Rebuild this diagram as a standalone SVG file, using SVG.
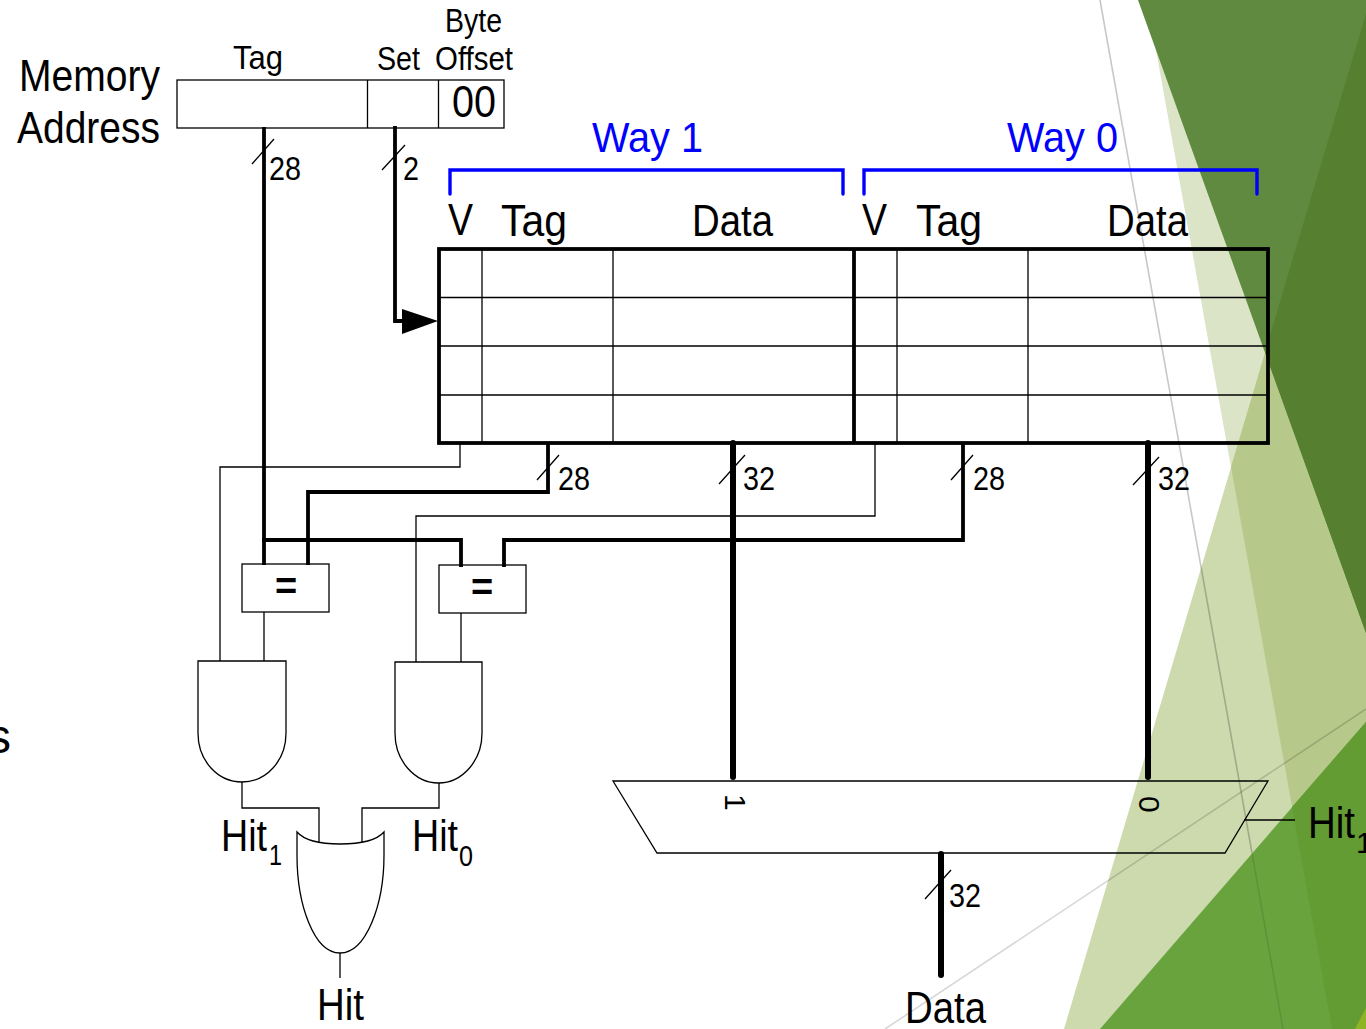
<svg xmlns="http://www.w3.org/2000/svg" width="1366" height="1029" viewBox="0 0 1366 1029">
<style>
text{font-family:"Liberation Sans",Arial,sans-serif;fill:#000}
.big{font-size:44px}
.mid{font-size:33px}
.way{font-size:43px;fill:#0000ff}
.sub{font-size:30px}
.thin{fill:none;stroke:#000;stroke-width:1.3}
.w3{fill:none;stroke:#000;stroke-width:3.8;stroke-linejoin:miter}
.w5{fill:none;stroke:#000;stroke-width:6;stroke-linecap:round}
.blue{fill:none;stroke:#0000ff;stroke-width:3.4;stroke-linecap:round}
.bg-line{fill:none;stroke:#000;stroke-width:1.6}
</style>
<rect width="1366" height="1029" fill="#fff"/>
<g id="background">
<polygon points="1147,0 1366,0 1366,1029 1332,1029" fill="#dce4c8"/>
<polygon points="1370,0 1064,1029 1366,1029" fill="#cddaae"/>
<polygon points="1370,0 1231,467 1332,1029 1366,1029" fill="#b6c98a"/>
<polygon points="1138,0 1366,0 1366,633" fill="#5f8a3f"/>
<polygon points="1366,14 1265,352 1366,633" fill="#567f30"/>
<polygon points="1366,722 1100,1029 1366,1029" fill="#69a33e"/>
<polygon points="1366,722 1292,807 1332,1029 1366,1029" fill="#639c33"/>
<polygon points="1366,1008 1355,1029 1366,1029" fill="#8fb526"/>
<line class="bg-line" x1="1100" y1="0" x2="1252" y2="853" opacity=".22"/>
<line class="bg-line" x1="1252" y1="853" x2="1283" y2="1029" opacity=".1"/>
<line class="bg-line" x1="885" y1="1029" x2="1366" y2="709" opacity=".16"/>
<text x="-13" y="753" font-size="48">s</text>
</g>
<g id="connectors">
<path class="w3" d="M264 127V565"/>
<path class="w3" d="M395 126V321H404"/>
<polygon points="402,309 438,321 402,334" fill="#000"/>
<path class="w3" d="M548 443V492H308V565"/>
<path class="w3" d="M963 443V540H504V567"/>
<path class="w3" d="M262 540H461V567"/>
<path class="w5" d="M733 443V777"/>
<path class="w5" d="M1148 443V777"/>
<path class="w5" d="M941 854V975"/>
<path class="thin" d="M460 443V467H220V661"/>
<path class="thin" d="M875 443V516H416V662"/>
<path class="thin" d="M264 612V661"/>
<path class="thin" d="M461 613V662"/>
<path class="thin" d="M242 782V808H319V842"/>
<path class="thin" d="M439 783V808H362V842"/>
<path class="thin" d="M340 953V978"/>
<path class="thin" d="M1244 820H1295"/>
<path class="thin" d="M252 164L274 139M382 170L405 145M537 480L559 455M719 484L745 455M951 480L973 455M1133 485L1159 457M925 899L951 870"/>
<text class="mid" x="269" y="180" textLength="32" lengthAdjust="spacingAndGlyphs">28</text>
<text class="mid" x="403" y="180" textLength="16" lengthAdjust="spacingAndGlyphs">2</text>
<text class="mid" x="558" y="490" textLength="32" lengthAdjust="spacingAndGlyphs">28</text>
<text class="mid" x="743" y="490" textLength="32" lengthAdjust="spacingAndGlyphs">32</text>
<text class="mid" x="973" y="490" textLength="32" lengthAdjust="spacingAndGlyphs">28</text>
<text class="mid" x="1158" y="490" textLength="32" lengthAdjust="spacingAndGlyphs">32</text>
<text class="mid" x="949" y="907" textLength="32" lengthAdjust="spacingAndGlyphs">32</text>
</g>
<g id="memory-address">
<rect class="thin" x="177" y="80" width="327" height="48"/>
<path class="thin" d="M367.500 80V128M438.500 80V128"/>
<text class="big" x="19" y="91" textLength="141" lengthAdjust="spacingAndGlyphs">Memory</text>
<text class="big" x="17" y="143" textLength="143" lengthAdjust="spacingAndGlyphs">Address</text>
<text class="mid" x="233" y="69" textLength="50" lengthAdjust="spacingAndGlyphs">Tag</text>
<text class="mid" x="377" y="70" textLength="43" lengthAdjust="spacingAndGlyphs">Set</text>
<text class="mid" x="445" y="32" textLength="57" lengthAdjust="spacingAndGlyphs">Byte</text>
<text class="mid" x="435" y="70" textLength="78" lengthAdjust="spacingAndGlyphs">Offset</text>
<text class="big" x="452" y="117" textLength="44" lengthAdjust="spacingAndGlyphs">00</text>
</g>
<g id="way-1-label">
<text class="way" x="592" y="151.500" textLength="111" lengthAdjust="spacingAndGlyphs">Way 1</text>
<path class="blue" d="M450 194V170H843V194"/>
</g>
<g id="way-0-label">
<text class="way" x="1007" y="151.500" textLength="111" lengthAdjust="spacingAndGlyphs">Way 0</text>
<path class="blue" d="M864 194V170H1257V194"/>
</g>
<g id="way-1">
<text class="big" x="448" y="235" textLength="25" lengthAdjust="spacingAndGlyphs">V</text>
<text class="big" x="501" y="236" textLength="66" lengthAdjust="spacingAndGlyphs">Tag</text>
<text class="big" x="692" y="236" textLength="81" lengthAdjust="spacingAndGlyphs">Data</text>
<path class="thin" d="M439 297.500H854M439 346H854M439 395H854M482 249V443M613 249V443"/>
</g>
<g id="way-0">
<text class="big" x="862" y="235" textLength="25" lengthAdjust="spacingAndGlyphs">V</text>
<text class="big" x="916" y="236" textLength="66" lengthAdjust="spacingAndGlyphs">Tag</text>
<text class="big" x="1107" y="236" textLength="81" lengthAdjust="spacingAndGlyphs">Data</text>
<path class="thin" d="M854 297.500H1268M854 346H1268M854 395H1268M897 249V443M1028 249V443"/>
<rect class="w3" x="439" y="249" width="829" height="194"/>
<path class="w3" d="M854 249V443"/>
</g>
<g id="comparator-1">
<rect class="thin" x="242" y="564" width="87" height="48"/>
<text x="286" y="599" font-size="38" font-weight="700" text-anchor="middle">=</text>
</g>
<g id="comparator-0">
<rect class="thin" x="439" y="565" width="87" height="48"/>
<text x="482" y="600" font-size="38" font-weight="700" text-anchor="middle">=</text>
</g>
<g id="and-1">
<path class="thin" d="M198 661H286V733C286 761 266 782 242 782C218 782 198 761 198 733Z"/>
<text class="big" x="221" y="851" textLength="46" lengthAdjust="spacingAndGlyphs">Hit</text>
<text class="sub" x="269" y="865" textLength="13" lengthAdjust="spacingAndGlyphs">1</text>
</g>
<g id="and-0">
<path class="thin" d="M395 662H482V733C482 761 462 783 438.500 783C415 783 395 761 395 733Z"/>
<text class="big" x="412" y="851" textLength="46" lengthAdjust="spacingAndGlyphs">Hit</text>
<text class="sub" x="459" y="866" textLength="14" lengthAdjust="spacingAndGlyphs">0</text>
</g>
<g id="or-gate">
<path class="thin" d="M297 832C305 841 322 844 340 844C358 844 376 841 384 832V855C384 905 366 953 340 953C314 953 297 905 297 855Z"/>
<text class="big" x="317" y="1020" textLength="47" lengthAdjust="spacingAndGlyphs">Hit</text>
</g>
<g id="mux">
<polygon class="thin" points="613,781 1268,781 1225,853 657,853"/>
<text class="sub" transform="translate(725,794) rotate(90)">1</text>
<text class="sub" transform="translate(1139,796) rotate(90)">0</text>
<text class="big" x="1308" y="838" textLength="47" lengthAdjust="spacingAndGlyphs">Hit</text>
<text class="sub" x="1356" y="853">1</text>
<text class="big" x="905" y="1023" textLength="81" lengthAdjust="spacingAndGlyphs">Data</text>
</g>
</svg>
